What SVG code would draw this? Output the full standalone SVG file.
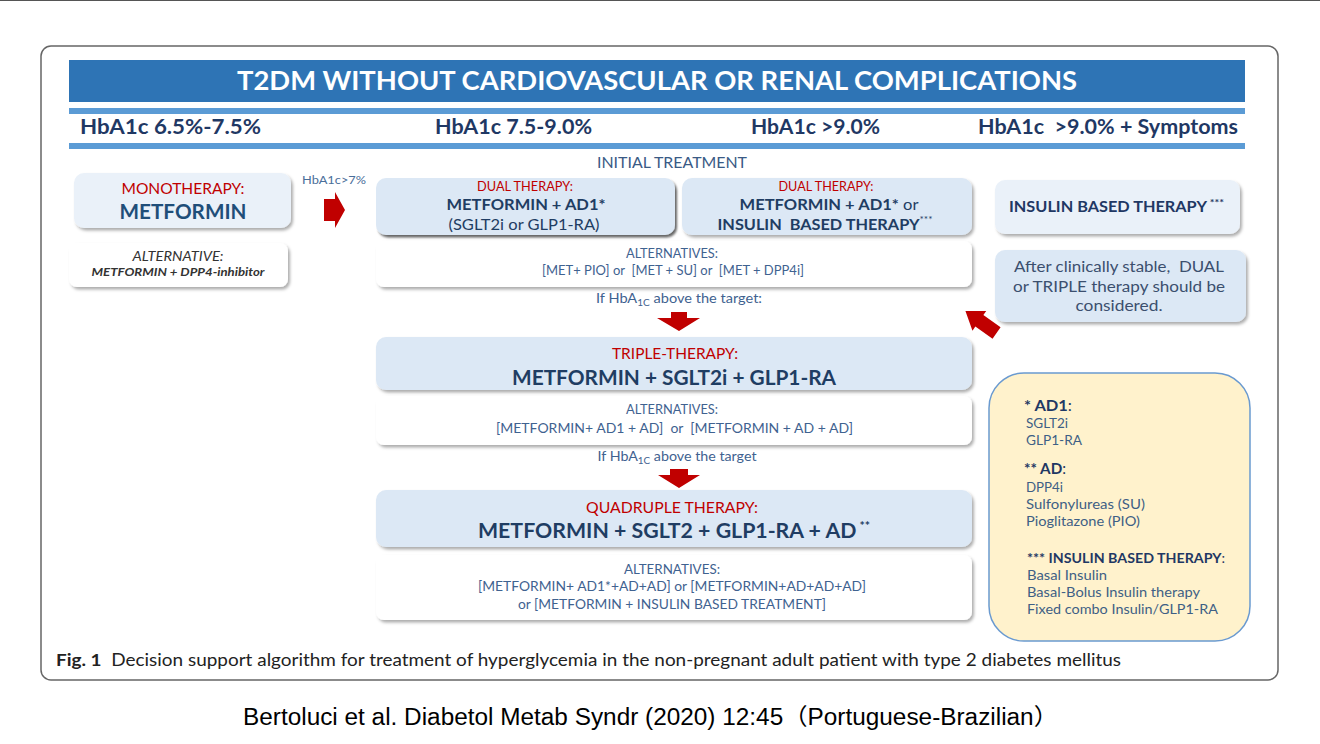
<svg xmlns="http://www.w3.org/2000/svg" width="1320" height="744" viewBox="0 0 1320 744">
<defs>
<filter id="sh" x="-10%" y="-15%" width="125%" height="145%">
<feDropShadow dx="2" dy="2.5" stdDeviation="1.4" flood-color="#000" flood-opacity="0.32"/>
</filter>
<filter id="shd" x="-10%" y="-15%" width="125%" height="145%">
<feDropShadow dx="2" dy="2.5" stdDeviation="1" flood-color="#000" flood-opacity="0.6"/>
</filter>
</defs>
<style>
text{font-family:Lato,"Open Sans","Noto Sans",sans-serif}
.hdr{font-size:20px;font-weight:700;fill:#1F3864}
.red{fill:#C00000}
.b{font-weight:700}
.dk{fill:#1F3D63}
.alt{fill:#3F6290;font-size:13px}
.bl{fill:#DCE8F5}
.lt{fill:#EAF1F9}
.wh{fill:#FFFFFF}
.lg{fill:#3E5F85;font-size:13px}
.lgh{fill:#1F3864;font-size:15px}
.arr{fill:#C00000}
.mid{text-anchor:middle}
</style>

<line x1="0" y1="0.5" x2="1320" y2="0.5" stroke="#555" stroke-width="1"/>
<rect x="41" y="46" width="1237" height="634" rx="10" fill="#FFFFFF" stroke="#666" stroke-width="1.5"/>

<g id="header">
<rect x="69" y="60" width="1176" height="42" fill="#2E74B5"/>
<text x="657" y="90" class="mid" font-size="26" font-weight="700" fill="#FFFFFF" textLength="840" lengthAdjust="spacingAndGlyphs">T2DM WITHOUT CARDIOVASCULAR OR RENAL COMPLICATIONS</text>
<rect x="69" y="108" width="1176" height="6" fill="#5B9BD5"/>
<text x="80" y="134" class="hdr" textLength="181" lengthAdjust="spacingAndGlyphs">HbA1c 6.5%-7.5%</text>
<text x="435" y="134" class="hdr" textLength="157" lengthAdjust="spacingAndGlyphs">HbA1c 7.5-9.0%</text>
<text x="751" y="134" class="hdr" textLength="129" lengthAdjust="spacingAndGlyphs">HbA1c &gt;9.0%</text>
<text x="978" y="134" class="hdr" textLength="260" lengthAdjust="spacingAndGlyphs" xml:space="preserve">HbA1c  &gt;9.0% + Symptoms</text>
<rect x="69" y="143" width="1176" height="6" fill="#5B9BD5"/>
<text x="672" y="168" class="mid" font-size="14.5" fill="#3A5A85" textLength="150" lengthAdjust="spacingAndGlyphs">INITIAL TREATMENT</text>
</g>

<g id="monotherapy">
<rect x="74" y="173" width="217" height="55" rx="10" class="lt" filter="url(#sh)"/>
<text x="183" y="194" class="mid red" font-size="15.5" textLength="123" lengthAdjust="spacingAndGlyphs">MONOTHERAPY:</text>
<text x="183" y="219" class="mid b" font-size="21" fill="#1F4E79" textLength="127" lengthAdjust="spacingAndGlyphs">METFORMIN</text>
</g>

<g id="alternative-mono">
<rect x="69" y="243" width="219" height="44" rx="8" class="wh" filter="url(#sh)"/>
<text x="178" y="261" class="mid" font-size="13" font-style="italic" fill="#333" textLength="91" lengthAdjust="spacingAndGlyphs">ALTERNATIVE:</text>
<text x="178" y="276" class="mid b" font-size="12" font-style="italic" fill="#333" textLength="173" lengthAdjust="spacingAndGlyphs">METFORMIN + DPP4-inhibitor</text>
</g>

<g id="dual1">
<rect x="376" y="178" width="299" height="57" rx="10" class="bl" filter="url(#shd)"/>
<text x="525" y="191" class="mid red" font-size="12.5" textLength="96" lengthAdjust="spacingAndGlyphs">DUAL THERAPY:</text>
<text x="526" y="210" class="mid b dk" font-size="16" textLength="159" lengthAdjust="spacingAndGlyphs">METFORMIN + AD1*</text>
<text x="524" y="230" class="mid dk" font-size="16" textLength="151" lengthAdjust="spacingAndGlyphs">(SGLT2i or GLP1-RA)</text>
</g>

<g id="dual2">
<rect x="682" y="178" width="290" height="57" rx="10" class="bl" filter="url(#sh)"/>
<text x="826" y="191" class="mid red" font-size="12.5" textLength="95" lengthAdjust="spacingAndGlyphs">DUAL THERAPY:</text>
<text x="829" y="210" class="mid dk" font-size="16" textLength="179" lengthAdjust="spacingAndGlyphs" xml:space="preserve"><tspan class="b">METFORMIN + AD1*</tspan> or</text>
<text x="825" y="230" class="mid dk" font-size="16" textLength="215" lengthAdjust="spacingAndGlyphs" xml:space="preserve"><tspan class="b">INSULIN  BASED THERAPY</tspan><tspan font-size="10" dy="-7">***</tspan></text>
</g>

<g id="alternatives1">
<rect x="376" y="241" width="596" height="46" rx="8" class="wh" filter="url(#sh)"/>
<text x="672" y="258" class="mid alt" font-size="12.5" textLength="92" lengthAdjust="spacingAndGlyphs">ALTERNATIVES:</text>
<text x="673" y="275" class="mid alt" textLength="262" lengthAdjust="spacingAndGlyphs" xml:space="preserve">[MET+ PIO] or  [MET + SU] or  [MET + DPP4i]</text>
</g>

<g id="cond1">
<text x="679" y="303" class="mid alt" textLength="166" lengthAdjust="spacingAndGlyphs">If HbA<tspan font-size="9" dy="3">1C</tspan><tspan dy="-3"> above the target:</tspan></text>
</g>

<g id="triple">
<rect x="376" y="337" width="596" height="53" rx="10" class="bl" filter="url(#sh)"/>
<text x="675" y="359" class="mid red" font-size="14.5" textLength="126" lengthAdjust="spacingAndGlyphs">TRIPLE-THERAPY:</text>
<text x="674" y="385" class="mid b dk" font-size="20.5" textLength="324" lengthAdjust="spacingAndGlyphs">METFORMIN + SGLT2i + GLP1-RA</text>
</g>

<g id="alternatives2">
<rect x="376" y="396" width="596" height="49" rx="8" class="wh" filter="url(#sh)"/>
<text x="672" y="414" class="mid alt" font-size="12.5" textLength="92" lengthAdjust="spacingAndGlyphs">ALTERNATIVES:</text>
<text x="674.5" y="433" class="mid alt" textLength="357" lengthAdjust="spacingAndGlyphs" xml:space="preserve">[METFORMIN+ AD1 + AD]  or  [METFORMIN + AD + AD]</text>
</g>

<g id="cond2">
<text x="677" y="461" class="mid alt" textLength="159" lengthAdjust="spacingAndGlyphs">If HbA<tspan font-size="9" dy="3">1C</tspan><tspan dy="-3"> above the target</tspan></text>
</g>

<g id="quadruple">
<rect x="376" y="490" width="596" height="57" rx="10" class="bl" filter="url(#sh)"/>
<text x="672" y="513" class="mid red" font-size="15.5" textLength="172" lengthAdjust="spacingAndGlyphs">QUADRUPLE THERAPY:</text>
<text x="674" y="538" class="mid b dk" font-size="20.5" textLength="392" lengthAdjust="spacingAndGlyphs">METFORMIN + SGLT2 + GLP1-RA + AD<tspan font-size="12" dy="-8"> **</tspan></text>
</g>

<g id="alternatives3">
<rect x="376" y="555" width="596" height="65" rx="8" class="wh" filter="url(#sh)"/>
<text x="672" y="574" class="mid alt" textLength="96" lengthAdjust="spacingAndGlyphs">ALTERNATIVES:</text>
<text x="672" y="591" class="mid alt" textLength="388" lengthAdjust="spacingAndGlyphs">[METFORMIN+ AD1*+AD+AD] or [METFORMIN+AD+AD+AD]</text>
<text x="672" y="609" class="mid alt" textLength="308" lengthAdjust="spacingAndGlyphs">or [METFORMIN + INSULIN BASED TREATMENT]</text>
</g>

<g id="insulin">
<rect x="995" y="180" width="245" height="54" rx="10" class="lt" filter="url(#sh)"/>
<text x="1009" y="212" class="b" font-size="14.5" fill="#1F3864" textLength="215" lengthAdjust="spacingAndGlyphs">INSULIN BASED THERAPY<tspan font-size="10" dy="-6"> ***</tspan></text>
</g>

<g id="stable">
<rect x="995" y="250" width="251" height="72" rx="10" class="bl" filter="url(#sh)"/>
<text x="1119" y="272" class="mid" font-size="15.5" fill="#3B4F6E" textLength="210" lengthAdjust="spacingAndGlyphs" xml:space="preserve">After clinically stable,  DUAL</text>
<text x="1119" y="292" class="mid" font-size="15.5" fill="#3B4F6E" textLength="212" lengthAdjust="spacingAndGlyphs">or TRIPLE therapy should be</text>
<text x="1119" y="311" class="mid" font-size="15.5" fill="#3B4F6E" textLength="87" lengthAdjust="spacingAndGlyphs">considered.</text>
</g>

<g id="legend">
<rect x="989" y="373" width="261" height="268" rx="35" fill="#FFF2CC" stroke="#6A9AD0" stroke-width="1.5"/>
<text x="1024" y="411" class="lgh" textLength="48" lengthAdjust="spacingAndGlyphs"><tspan class="b">* AD1</tspan>:</text>
<text x="1026" y="428" class="lg" textLength="42" lengthAdjust="spacingAndGlyphs">SGLT2i</text>
<text x="1026" y="445" class="lg" textLength="56" lengthAdjust="spacingAndGlyphs">GLP1-RA</text>
<text x="1024" y="474" class="lgh" textLength="42" lengthAdjust="spacingAndGlyphs"><tspan class="b">** AD</tspan>:</text>
<text x="1026" y="492" class="lg" textLength="37" lengthAdjust="spacingAndGlyphs">DPP4i</text>
<text x="1026" y="509" class="lg" textLength="119" lengthAdjust="spacingAndGlyphs">Sulfonylureas (SU)</text>
<text x="1026" y="526" class="lg" textLength="114" lengthAdjust="spacingAndGlyphs">Pioglitazone (PIO)</text>
<text x="1027" y="563" font-size="13" fill="#1F3864" textLength="198" lengthAdjust="spacingAndGlyphs"><tspan class="b">*** INSULIN BASED THERAPY</tspan>:</text>
<text x="1027" y="580" class="lg" textLength="80" lengthAdjust="spacingAndGlyphs">Basal Insulin</text>
<text x="1027" y="597" class="lg" textLength="173" lengthAdjust="spacingAndGlyphs">Basal-Bolus Insulin therapy</text>
<text x="1027" y="614" class="lg" textLength="191" lengthAdjust="spacingAndGlyphs">Fixed combo Insulin/GLP1-RA</text>
</g>

<g id="connectors">
<text x="302" y="184" font-size="12" fill="#4A6E9A" textLength="64" lengthAdjust="spacingAndGlyphs">HbA1c&gt;7%</text>
<polygon class="arr" points="324,199 335,199 335,192 345,210 335,228 335,221 324,221"/>
<polygon class="arr" points="671,312 687,312 687,318 700,318 679,331 657,318 671,318"/>
<polygon class="arr" points="670,469 688,469 688,475 700,475 679,488 658,475 670,475"/>
<polygon class="arr" points="-19,-7 2,-7 2,-12 19,0 2,12 2,7 -19,7" transform="translate(981,322) rotate(215)"/>
</g>

<g id="caption">
<text x="56" y="666" font-size="17" fill="#222" textLength="1065" lengthAdjust="spacingAndGlyphs" xml:space="preserve"><tspan class="b">Fig. 1</tspan>  Decision support algorithm for treatment of hyperglycemia in the non-pregnant adult patient with type 2 diabetes mellitus</text>
<text x="243" y="725" font-size="23" fill="#000" textLength="815" lengthAdjust="spacingAndGlyphs" style="font-family:'Liberation Sans','Noto Sans CJK SC',sans-serif">Bertoluci et al. Diabetol Metab Syndr (2020) 12:45（Portuguese-Brazilian）</text>
</g>
</svg>
